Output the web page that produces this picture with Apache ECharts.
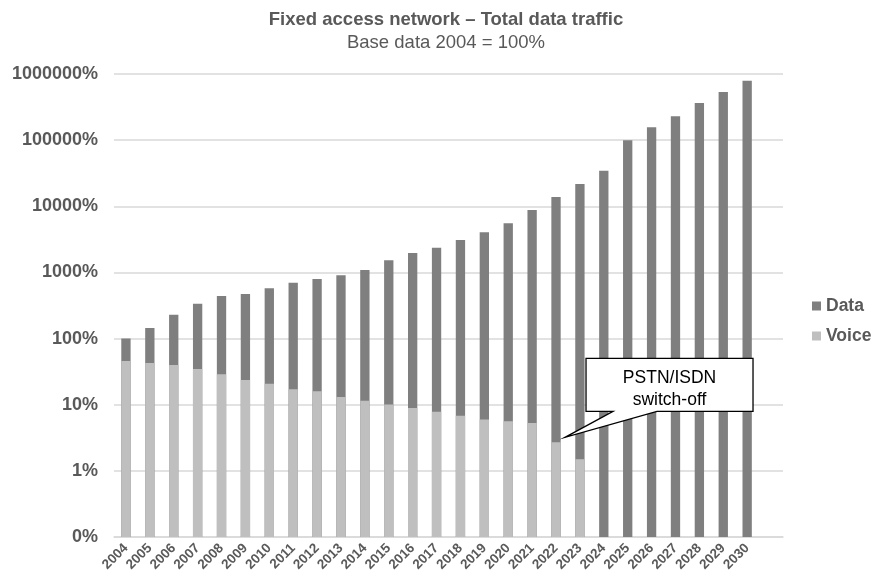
<!DOCTYPE html>
<html>
<head>
<meta charset="utf-8">
<script src="https://cdn.jsdelivr.net/npm/echarts@6/dist/echarts.min.js"></script>
<style>
html,body{margin:0;padding:0;background:#fff;}
#chart{width:878px;height:579px;}
</style>
</head>
<body>
<div id="chart"></div>
<script>
// Categories (the trailing empty slot is an empty column in the source chart)
const years = ['2004','2005','2006','2007','2008','2009','2010','2011','2012','2013','2014','2015','2016','2017','2018','2019','2020','2021','2022','2023','2024','2025','2026','2027','2028','2029','2030',''];
// Total traffic (Data + Voice), % of 2004 base — top of each bar
const totalTraffic = [100,144,230,337,440,472,576,700,796,905,1090,1525,1970,2370,3090,4050,5530,8790,13800,21700,34600,99300,156000,229000,365000,535000,793000,null];
// Voice traffic, % of 2004 base
const voiceTraffic = [45.8,42.7,39.9,34.7,28.8,23.6,20.8,17.1,16.0,13.1,11.5,10.1,8.9,7.8,6.8,6.0,5.6,5.3,2.7,1.5,null,null,null,null,null,null,null,null];
const titleText = 'Fixed access network \u2013 Total data traffic';
const subtitleText = 'Base data 2004 = 100%';
const calloutLines = ['PSTN/ISDN', 'switch-off'];
const calloutIndex = 18; // 2022

const FONT = '"Liberation Sans", Arial, sans-serif';
const GRAY = '#595959';

const chart = echarts.init(document.getElementById('chart'), null, {renderer: 'canvas'});
chart.setOption({
  animation: false,
  backgroundColor: '#ffffff',
  title: {
    text: titleText,
    subtext: subtitleText,
    left: 446,
    top: 9,
    textAlign: 'center',
    itemGap: 1,
    padding: 0,
    textStyle: {fontFamily: FONT, fontSize: 18.5, fontWeight: 'bold', color: GRAY, lineHeight: 22},
    subtextStyle: {fontFamily: FONT, fontSize: 18.5, fontWeight: 'normal', color: GRAY, lineHeight: 22}
  },
  legend: {
    orient: 'vertical',
    left: 812,
    top: 296,
    itemWidth: 9,
    itemHeight: 9,
    itemGap: 10,
    icon: 'rect',
    padding: 0,
    data: ['Data', 'Voice'],
    textStyle: {fontFamily: FONT, fontSize: 17.5, fontWeight: 'bold', color: GRAY, lineHeight: 20}
  },
  grid: {left: 114, right: 95, top: 74, bottom: 42, containLabel: false},
  xAxis: {
    type: 'category',
    data: years,
    axisTick: {show: false},
    axisLine: {show: true, lineStyle: {color: '#d9d9d9', width: 1.5}},
    axisLabel: {
      interval: 0,
      rotate: 45,
      margin: 9,
      fontFamily: FONT,
      fontSize: 13.5,
      fontWeight: 'bold',
      color: GRAY
    }
  },
  yAxis: {
    type: 'log',
    logBase: 10,
    min: 0.1,
    max: 1000000,
    startValue: 0.1,
    splitNumber: 7,
    axisLine: {show: false},
    axisTick: {show: false},
    splitLine: {show: true, lineStyle: {color: '#d9d9d9', width: 1.5}},
    axisLabel: {
      margin: 16,
      fontFamily: FONT,
      fontSize: 18,
      fontWeight: 'bold',
      color: GRAY,
      formatter: function (v) { return Math.round(v) + '%'; }
    }
  },
  series: [
    {
      name: 'Data',
      type: 'bar',
      data: totalTraffic,
      barWidth: '39%',
      barGap: '-100%',
      itemStyle: {color: '#7f7f7f'}
    },
    {
      name: 'Voice',
      type: 'bar',
      data: voiceTraffic,
      barWidth: '39%',
      barGap: '-100%',
      itemStyle: {color: '#bfbfbf'}
    }
  ]
});

// Callout anchored at the 2022 voice bar top
const p = chart.convertToPixel({xAxisIndex: 0, yAxisIndex: 0}, [calloutIndex, voiceTraffic[calloutIndex]]);
const tx = p[0] + 9, ty = p[1] - 5;
const L = tx + 21, R = tx + 188, T = ty - 79, B = ty - 26;
chart.setOption({
  graphic: [
    {
      type: 'polygon',
      z: 100,
      shape: {points: [[L, T], [R, T], [R, B], [tx + 92, B], [tx, ty], [tx + 48, B], [L, B]]},
      style: {fill: '#ffffff', stroke: '#000000', lineWidth: 1.3}
    },
    {
      type: 'text', z: 101,
      x: (L + R) / 2, y: ty - 59,
      style: {text: calloutLines[0], fontFamily: FONT, fontSize: 17.5, fill: '#000000', align: 'center', verticalAlign: 'middle'}
    },
    {
      type: 'text', z: 101,
      x: (L + R) / 2, y: ty - 37,
      style: {text: calloutLines[1], fontFamily: FONT, fontSize: 17.5, fill: '#000000', align: 'center', verticalAlign: 'middle'}
    }
  ]
});
</script>
</body>
</html>
